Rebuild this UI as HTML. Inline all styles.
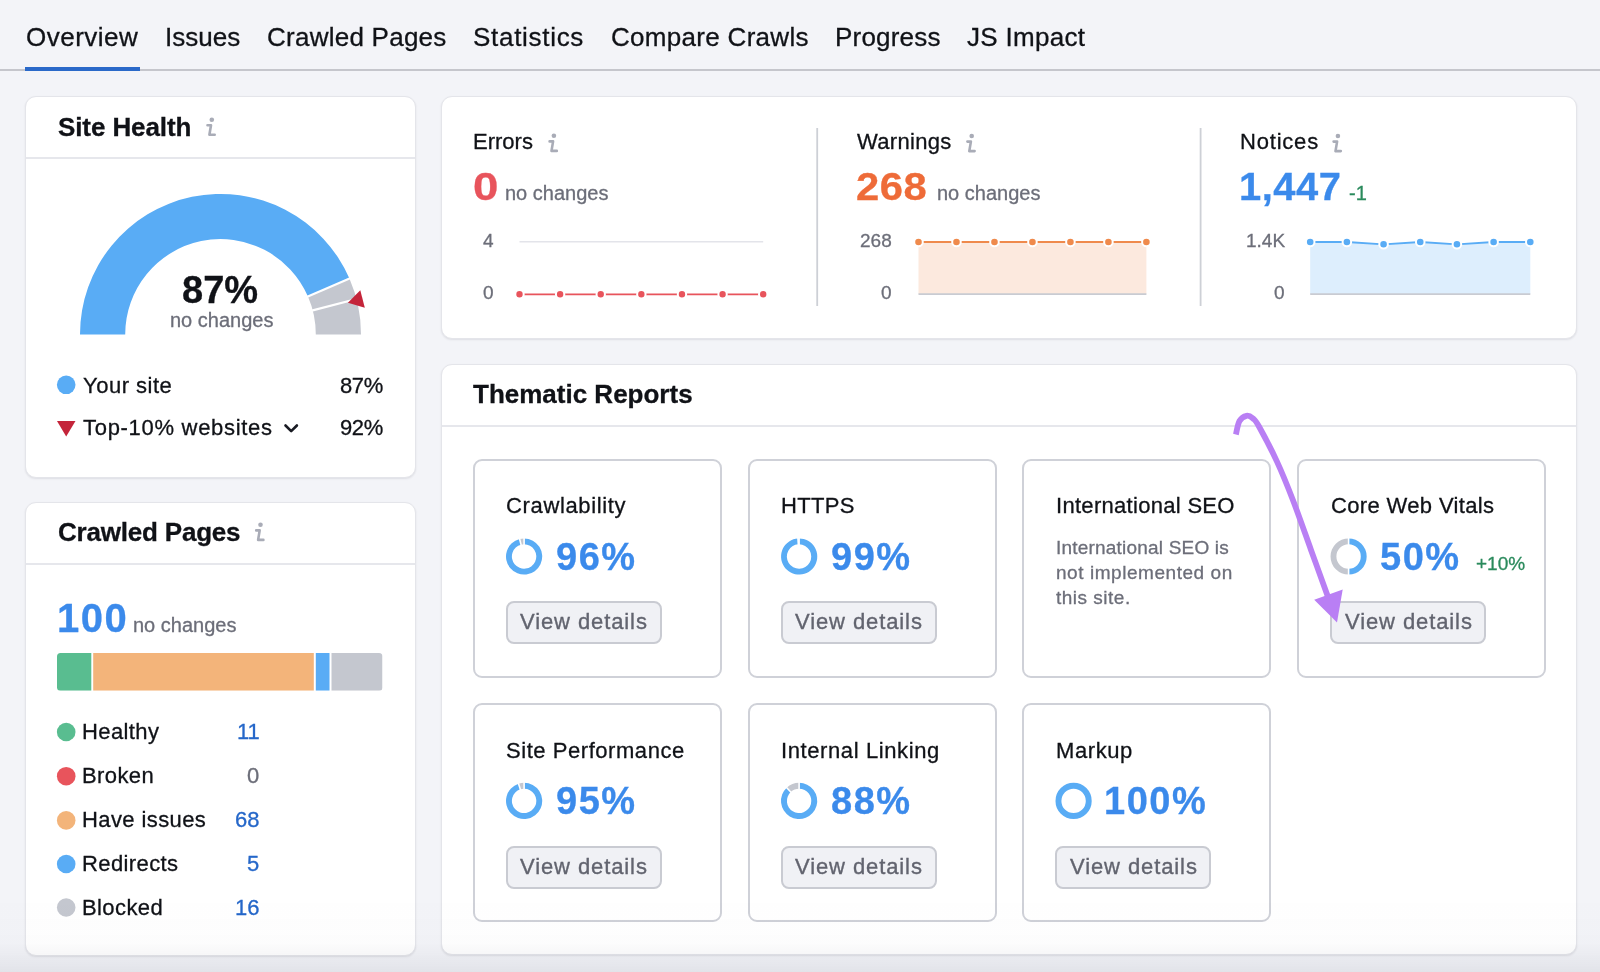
<!DOCTYPE html>
<html><head><meta charset="utf-8">
<style>
html,body{margin:0;padding:0}
body{width:1600px;height:972px;overflow:hidden;position:relative;background:#f3f4f8;font-family:"Liberation Sans",sans-serif;color:#101217}
.t{position:absolute;line-height:1.117;white-space:nowrap;margin:0;will-change:transform;-webkit-text-stroke:0.3px currentColor}
.card{position:absolute;background:#fff;border:1px solid #e4e5ea;border-radius:11px;box-shadow:0 1px 2px rgba(40,44,60,0.10);box-sizing:border-box}
.hr{position:absolute;height:2px;background:#e6e7ec}
.tc{position:absolute;border:2px solid #cfd1d8;border-radius:9px;box-sizing:border-box;background:#fff}
.btn{position:absolute;background:#f0f1f5;border:2px solid #c9cbd2;border-radius:8px;box-sizing:border-box}
svg{position:absolute;overflow:visible}
</style></head><body>
<div style="position:absolute;left:0;top:69px;width:1600px;height:2px;background:#c5c6cc"></div>
<div style="position:absolute;left:25px;top:66.5px;width:115px;height:4.5px;background:#2a69c9"></div>
<div class="card" style="left:25px;top:96px;width:391px;height:382px"></div>
<div class="hr" style="left:26px;top:157px;width:389px"></div>
<div class="card" style="left:25px;top:502px;width:391px;height:454px"></div>
<div class="hr" style="left:26px;top:563px;width:389px"></div>
<div class="card" style="left:441px;top:96px;width:1136px;height:243px"></div>
<div class="card" style="left:441px;top:364px;width:1136px;height:591px"></div>
<div class="hr" style="left:442px;top:425px;width:1134px"></div>
<div class="t" style="left:26px;top:23.47px;font-size:26px;letter-spacing:0.5px">Overview</div>
<div class="t" style="left:165px;top:23.47px;font-size:26px;letter-spacing:0px">Issues</div>
<div class="t" style="left:267px;top:23.47px;font-size:26px;letter-spacing:0.25px">Crawled Pages</div>
<div class="t" style="left:473px;top:23.47px;font-size:26px;letter-spacing:0.7px">Statistics</div>
<div class="t" style="left:611px;top:23.47px;font-size:26px;letter-spacing:0.3px">Compare Crawls</div>
<div class="t" style="left:835px;top:23.47px;font-size:26px;letter-spacing:0.2px">Progress</div>
<div class="t" style="left:967px;top:23.47px;font-size:26px;letter-spacing:0.3px">JS Impact</div>
<div class="t" style="left:57.5px;top:112.97px;font-size:26px;font-weight:bold;letter-spacing:-0.1px">Site Health</div>
<div class="t" style="left:182px;top:269.21px;font-size:38px;font-weight:bold">87%</div>
<div class="t" style="left:169.6px;top:308.9px;font-size:20px;color:#6c6e79">no changes</div>
<div class="t" style="left:83.2px;top:374.39px;font-size:22px;letter-spacing:0.5px">Your site</div>
<div class="t" style="right:1217.5px;top:374.39px;font-size:22px;letter-spacing:-0.4px">87%</div>
<div class="t" style="left:83px;top:416.49px;font-size:22px;letter-spacing:0.7px">Top-10% websites</div>
<div class="t" style="right:1217.5px;top:416.49px;font-size:22px;letter-spacing:-0.4px">92%</div>
<div class="t" style="left:57.5px;top:518.47px;font-size:26px;font-weight:bold;letter-spacing:-0.2px">Crawled Pages</div>
<div class="t" style="left:56.5px;top:596.3px;font-size:40px;color:#3b8aeb;font-weight:bold;letter-spacing:1.5px">100</div>
<div class="t" style="left:132.8px;top:614.4px;font-size:20px;color:#6c6e79">no changes</div>
<div class="t" style="left:81.8px;top:720.09px;font-size:22px;letter-spacing:0.4px">Healthy</div>
<div class="t" style="right:1340.6px;top:720.09px;font-size:22px;color:#2567c9">11</div>
<div class="t" style="left:81.8px;top:764.29px;font-size:22px;letter-spacing:0.4px">Broken</div>
<div class="t" style="right:1340.6px;top:764.29px;font-size:22px;color:#6c6e79">0</div>
<div class="t" style="left:81.8px;top:808.49px;font-size:22px;letter-spacing:0.4px">Have issues</div>
<div class="t" style="right:1340.6px;top:808.49px;font-size:22px;color:#2567c9">68</div>
<div class="t" style="left:81.8px;top:852.09px;font-size:22px;letter-spacing:0.4px">Redirects</div>
<div class="t" style="right:1340.6px;top:852.09px;font-size:22px;color:#2567c9">5</div>
<div class="t" style="left:81.8px;top:895.59px;font-size:22px;letter-spacing:0.4px">Blocked</div>
<div class="t" style="right:1340.6px;top:895.59px;font-size:22px;color:#2567c9">16</div>
<div class="t" style="left:473.3px;top:130.39px;font-size:22px">Errors</div>
<div class="t" style="left:472.5px;top:165.91px;font-size:38px;color:#e8545c;font-weight:bold;transform:scaleX(1.2);transform-origin:0 0">0</div>
<div class="t" style="left:505.3px;top:182.2px;font-size:20px;color:#6c6e79">no changes</div>
<div class="t" style="right:1106.8px;top:229.81px;font-size:19px;color:#6c6e79">4</div>
<div class="t" style="right:1106.8px;top:282px;font-size:19px;color:#6c6e79">0</div>
<div class="t" style="left:856.6px;top:130.49px;font-size:22px;letter-spacing:0.3px">Warnings</div>
<div class="t" style="left:855.6px;top:165.61px;font-size:38px;color:#ee6b38;font-weight:bold;letter-spacing:0.5px;transform:scaleX(1.1);transform-origin:0 0">268</div>
<div class="t" style="left:936.5px;top:181.9px;font-size:20px;color:#6c6e79">no changes</div>
<div class="t" style="right:708px;top:229.81px;font-size:19px;color:#6c6e79">268</div>
<div class="t" style="right:708px;top:282px;font-size:19px;color:#6c6e79">0</div>
<div class="t" style="left:1239.5px;top:130.49px;font-size:22px;letter-spacing:0.8px">Notices</div>
<div class="t" style="left:1238.5px;top:165.61px;font-size:38px;color:#3b8aeb;font-weight:bold;letter-spacing:0.5px;transform:scaleX(1.05);transform-origin:0 0">1,447</div>
<div class="t" style="left:1348.7px;top:181.9px;font-size:20px;color:#2a8a5c">-1</div>
<div class="t" style="right:315.4px;top:229.81px;font-size:19px;color:#6c6e79">1.4K</div>
<div class="t" style="right:315.4px;top:282px;font-size:19px;color:#6c6e79">0</div>
<div class="t" style="left:473.2px;top:380.37px;font-size:26px;font-weight:bold">Thematic Reports</div>
<div class="tc" style="left:472.5px;top:459px;width:249px;height:218.5px"></div>
<div class="tc" style="left:747.5px;top:459px;width:249px;height:218.5px"></div>
<div class="tc" style="left:1022px;top:459px;width:249px;height:218.5px"></div>
<div class="tc" style="left:1297px;top:459px;width:249px;height:218.5px"></div>
<div class="tc" style="left:472.5px;top:703.4px;width:249px;height:218.5px"></div>
<div class="tc" style="left:747.5px;top:703.4px;width:249px;height:218.5px"></div>
<div class="tc" style="left:1022px;top:703.4px;width:249px;height:218.5px"></div>
<div class="t" style="left:506px;top:494.39px;font-size:22px;letter-spacing:0.65px">Crawlability</div>
<div class="t" style="left:555.8px;top:535.91px;font-size:38px;color:#3b8aeb;font-weight:bold;letter-spacing:1.5px">96%</div>
<div class="btn" style="left:505.5px;top:601.2px;width:156px;height:43px"></div>
<div class="t" style="left:520px;top:610.29px;font-size:22px;color:#62646f;letter-spacing:0.9px;-webkit-text-stroke:0.35px #62646f">View details</div>
<div class="t" style="left:781px;top:494.39px;font-size:22px;letter-spacing:0.3px">HTTPS</div>
<div class="t" style="left:830.8px;top:535.91px;font-size:38px;color:#3b8aeb;font-weight:bold;letter-spacing:1.5px">99%</div>
<div class="btn" style="left:780.5px;top:601.2px;width:156px;height:43px"></div>
<div class="t" style="left:795px;top:610.29px;font-size:22px;color:#62646f;letter-spacing:0.9px;-webkit-text-stroke:0.35px #62646f">View details</div>
<div class="t" style="left:1055.5px;top:494.39px;font-size:22px;letter-spacing:0.3px">International SEO</div>
<div class="t" style="left:1055.5px;top:536.8px;font-size:19px;color:#6c6e79;letter-spacing:0.2px">International SEO is</div>
<div class="t" style="left:1055.5px;top:561.8px;font-size:19px;color:#6c6e79;letter-spacing:0.55px">not implemented on</div>
<div class="t" style="left:1055.5px;top:586.8px;font-size:19px;color:#6c6e79;letter-spacing:0.5px">this site.</div>
<div class="t" style="left:1330.5px;top:494.39px;font-size:22px;letter-spacing:0.35px">Core Web Vitals</div>
<div class="t" style="left:1380.3px;top:535.91px;font-size:38px;color:#3b8aeb;font-weight:bold;letter-spacing:1.5px">50%</div>
<div class="btn" style="left:1330px;top:601.2px;width:156px;height:43px"></div>
<div class="t" style="left:1344.5px;top:610.29px;font-size:22px;color:#62646f;letter-spacing:0.9px;-webkit-text-stroke:0.35px #62646f">View details</div>
<div class="t" style="left:506px;top:738.79px;font-size:22px;letter-spacing:0.55px">Site Performance</div>
<div class="t" style="left:555.8px;top:780.31px;font-size:38px;color:#3b8aeb;font-weight:bold;letter-spacing:1.5px">95%</div>
<div class="btn" style="left:505.5px;top:845.6px;width:156px;height:43px"></div>
<div class="t" style="left:520px;top:854.69px;font-size:22px;color:#62646f;letter-spacing:0.9px;-webkit-text-stroke:0.35px #62646f">View details</div>
<div class="t" style="left:781px;top:738.79px;font-size:22px;letter-spacing:0.6px">Internal Linking</div>
<div class="t" style="left:830.8px;top:780.31px;font-size:38px;color:#3b8aeb;font-weight:bold;letter-spacing:1.5px">88%</div>
<div class="btn" style="left:780.5px;top:845.6px;width:156px;height:43px"></div>
<div class="t" style="left:795px;top:854.69px;font-size:22px;color:#62646f;letter-spacing:0.9px;-webkit-text-stroke:0.35px #62646f">View details</div>
<div class="t" style="left:1055.5px;top:738.79px;font-size:22px;letter-spacing:0.6px">Markup</div>
<div class="t" style="left:1103.8px;top:780.31px;font-size:38px;color:#3b8aeb;font-weight:bold;letter-spacing:1.5px">100%</div>
<div class="btn" style="left:1055px;top:845.6px;width:156px;height:43px"></div>
<div class="t" style="left:1069.5px;top:854.69px;font-size:22px;color:#62646f;letter-spacing:0.9px;-webkit-text-stroke:0.35px #62646f">View details</div>
<div class="t" style="left:1476px;top:552.8px;font-size:19px;color:#2a8a5c">+10%</div>
<svg width="1600" height="972" style="left:0;top:0">
<path fill="#59acf5" d="M80 334.4A140.5 140.5 0 0 1 349.44 278.6L307.96 296.55A95.3 95.3 0 0 0 125.2 334.4Z"/>
<path fill="#c4c7cf" d="M349.44 278.6A140.5 140.5 0 0 1 361 334.4L315.8 334.4A95.3 95.3 0 0 0 307.96 296.55Z"/>
<line x1="306.13" y1="297.35" x2="351.28" y2="277.81" stroke="#fff" stroke-width="2.2"/>
<line x1="310.79" y1="310.88" x2="358.4" y2="298.48" stroke="#fff" stroke-width="2.2"/>
<polygon fill="#c4243a" points="347.9,302.8 360.3,290.3 364.8,307.8"/>
<g transform="translate(211.8 119.7)"><circle cx="0" cy="0" r="2.3" fill="#a9acb7"/><path d="M-4.3 5.6H-0.8L-2.4 15.1H2.9" fill="none" stroke="#a9acb7" stroke-width="2.6" stroke-linecap="round" stroke-linejoin="round"/></g>
<g transform="translate(260.5 524.8)"><circle cx="0" cy="0" r="2.3" fill="#a9acb7"/><path d="M-4.3 5.6H-0.8L-2.4 15.1H2.9" fill="none" stroke="#a9acb7" stroke-width="2.6" stroke-linecap="round" stroke-linejoin="round"/></g>
<g transform="translate(553.9 135.8)"><circle cx="0" cy="0" r="2.3" fill="#a9acb7"/><path d="M-4.3 5.6H-0.8L-2.4 15.1H2.9" fill="none" stroke="#a9acb7" stroke-width="2.6" stroke-linecap="round" stroke-linejoin="round"/></g>
<g transform="translate(971.7 136)"><circle cx="0" cy="0" r="2.3" fill="#a9acb7"/><path d="M-4.3 5.6H-0.8L-2.4 15.1H2.9" fill="none" stroke="#a9acb7" stroke-width="2.6" stroke-linecap="round" stroke-linejoin="round"/></g>
<g transform="translate(1337.9 136)"><circle cx="0" cy="0" r="2.3" fill="#a9acb7"/><path d="M-4.3 5.6H-0.8L-2.4 15.1H2.9" fill="none" stroke="#a9acb7" stroke-width="2.6" stroke-linecap="round" stroke-linejoin="round"/></g>
<circle cx="66.2" cy="384.8" r="9.3" fill="#59acf5"/>
<polygon fill="#c4243a" points="57,421 75.5,421 66.2,436.5"/>
<path d="M285.5 425.5L291.2 431.2L296.9 425.5" fill="none" stroke="#191b23" stroke-width="2.6" stroke-linecap="round" stroke-linejoin="round"/>
<clipPath id="barclip"><rect x="57" y="653" width="325.5" height="37.7" rx="3.5"/></clipPath><g clip-path="url(#barclip)">
<rect x="57" y="653" width="34.3" height="37.7" fill="#59bd90"/>
<rect x="93.2" y="653" width="220.6" height="37.7" fill="#f3b47a"/>
<rect x="315.8" y="653" width="13.7" height="37.7" fill="#59acf5"/>
<rect x="331.5" y="653" width="51" height="37.7" fill="#c4c7cf"/>
</g>
<circle cx="66.2" cy="732" r="9.3" fill="#59bd90"/>
<circle cx="66.2" cy="776.2" r="9.3" fill="#e8545c"/>
<circle cx="66.2" cy="820.4" r="9.3" fill="#f3b47a"/>
<circle cx="66.2" cy="864" r="9.3" fill="#59acf5"/>
<circle cx="66.2" cy="907.5" r="9.3" fill="#c4c7cf"/>
<rect x="816.3" y="128" width="1.8" height="178" fill="#cdd0d6"/>
<rect x="1199.7" y="128" width="1.8" height="178" fill="#cdd0d6"/>
<line x1="519.5" y1="241.8" x2="763.2" y2="241.8" stroke="#e3e4ea" stroke-width="1.6"/>
<line x1="519.5" y1="294.3" x2="763.2" y2="294.3" stroke="#e8545c" stroke-width="1.7"/>
<circle cx="519.5" cy="294.3" r="4.2" fill="#e8545c" stroke="#fff" stroke-width="2"/>
<circle cx="560.12" cy="294.3" r="4.2" fill="#e8545c" stroke="#fff" stroke-width="2"/>
<circle cx="600.73" cy="294.3" r="4.2" fill="#e8545c" stroke="#fff" stroke-width="2"/>
<circle cx="641.35" cy="294.3" r="4.2" fill="#e8545c" stroke="#fff" stroke-width="2"/>
<circle cx="681.97" cy="294.3" r="4.2" fill="#e8545c" stroke="#fff" stroke-width="2"/>
<circle cx="722.58" cy="294.3" r="4.2" fill="#e8545c" stroke="#fff" stroke-width="2"/>
<circle cx="763.2" cy="294.3" r="4.2" fill="#e8545c" stroke="#fff" stroke-width="2"/>
<rect x="918.5" y="242" width="227.9" height="52" fill="#fce9de"/>
<line x1="918.5" y1="294.2" x2="1146.4" y2="294.2" stroke="#c9cbd2" stroke-width="1.8"/>
<line x1="918.5" y1="242" x2="1146.4" y2="242" stroke="#ef8a4c" stroke-width="1.8"/>
<circle cx="918.5" cy="242" r="4.3" fill="#ef8a4c" stroke="#fff" stroke-width="2"/>
<circle cx="956.48" cy="242" r="4.3" fill="#ef8a4c" stroke="#fff" stroke-width="2"/>
<circle cx="994.47" cy="242" r="4.3" fill="#ef8a4c" stroke="#fff" stroke-width="2"/>
<circle cx="1032.45" cy="242" r="4.3" fill="#ef8a4c" stroke="#fff" stroke-width="2"/>
<circle cx="1070.43" cy="242" r="4.3" fill="#ef8a4c" stroke="#fff" stroke-width="2"/>
<circle cx="1108.42" cy="242" r="4.3" fill="#ef8a4c" stroke="#fff" stroke-width="2"/>
<circle cx="1146.4" cy="242" r="4.3" fill="#ef8a4c" stroke="#fff" stroke-width="2"/>
<polygon fill="#ddeefd" points="1310.2,242 1346.88,242 1383.57,244.3 1420.25,242 1456.93,244.3 1493.62,242 1530.3,242 1530.3,294 1310.2,294"/>
<line x1="1310.2" y1="294.2" x2="1530.3" y2="294.2" stroke="#c9cbd2" stroke-width="1.8"/>
<polyline fill="none" stroke="#59acf5" stroke-width="1.8" points="1310.2,242 1346.88,242 1383.57,244.3 1420.25,242 1456.93,244.3 1493.62,242 1530.3,242"/>
<circle cx="1310.2" cy="242" r="4.3" fill="#59acf5" stroke="#fff" stroke-width="2"/>
<circle cx="1346.88" cy="242" r="4.3" fill="#59acf5" stroke="#fff" stroke-width="2"/>
<circle cx="1383.57" cy="244.3" r="4.3" fill="#59acf5" stroke="#fff" stroke-width="2"/>
<circle cx="1420.25" cy="242" r="4.3" fill="#59acf5" stroke="#fff" stroke-width="2"/>
<circle cx="1456.93" cy="244.3" r="4.3" fill="#59acf5" stroke="#fff" stroke-width="2"/>
<circle cx="1493.62" cy="242" r="4.3" fill="#59acf5" stroke="#fff" stroke-width="2"/>
<circle cx="1530.3" cy="242" r="4.3" fill="#59acf5" stroke="#fff" stroke-width="2"/>
<path fill="#59acf5" d="M524.1 538.4A18.1 18.1 0 1 1 519.6 538.97L521.07 544.68A12.2 12.2 0 1 0 524.1 544.3Z"/>
<path fill="#c4c7cf" d="M519.6 538.97A18.1 18.1 0 0 1 524.1 538.4L524.1 544.3A12.2 12.2 0 0 0 521.07 544.68Z"/>
<line x1="524.1" y1="545.3" x2="524.1" y2="537.4" stroke="#fff" stroke-width="1.6"/>
<line x1="521.31" y1="545.65" x2="519.35" y2="538" stroke="#fff" stroke-width="1.6"/>
<path fill="#59acf5" d="M799.1 538.4A18.1 18.1 0 1 1 797.96 538.44L798.33 544.32A12.2 12.2 0 1 0 799.1 544.3Z"/>
<path fill="#c4c7cf" d="M797.96 538.44A18.1 18.1 0 0 1 799.1 538.4L799.1 544.3A12.2 12.2 0 0 0 798.33 544.32Z"/>
<line x1="799.1" y1="545.3" x2="799.1" y2="537.4" stroke="#fff" stroke-width="1.6"/>
<line x1="798.4" y1="545.32" x2="797.9" y2="537.44" stroke="#fff" stroke-width="1.6"/>
<path fill="#59acf5" d="M1348.6 538.4A18.1 18.1 0 0 1 1348.6 574.6L1348.6 568.7A12.2 12.2 0 0 0 1348.6 544.3Z"/>
<path fill="#c4c7cf" d="M1348.6 574.6A18.1 18.1 0 0 1 1348.6 538.4L1348.6 544.3A12.2 12.2 0 0 0 1348.6 568.7Z"/>
<line x1="1348.6" y1="545.3" x2="1348.6" y2="537.4" stroke="#fff" stroke-width="1.6"/>
<line x1="1348.6" y1="567.7" x2="1348.6" y2="575.6" stroke="#fff" stroke-width="1.6"/>
<path fill="#59acf5" d="M524.1 782.8A18.1 18.1 0 1 1 518.51 783.69L520.33 789.3A12.2 12.2 0 1 0 524.1 788.7Z"/>
<path fill="#c4c7cf" d="M518.51 783.69A18.1 18.1 0 0 1 524.1 782.8L524.1 788.7A12.2 12.2 0 0 0 520.33 789.3Z"/>
<line x1="524.1" y1="789.7" x2="524.1" y2="781.8" stroke="#fff" stroke-width="1.6"/>
<line x1="520.64" y1="790.25" x2="518.2" y2="782.73" stroke="#fff" stroke-width="1.6"/>
<path fill="#59acf5" d="M799.1 782.8A18.1 18.1 0 1 1 786.71 787.71L790.75 792.01A12.2 12.2 0 1 0 799.1 788.7Z"/>
<path fill="#c4c7cf" d="M786.71 787.71A18.1 18.1 0 0 1 799.1 782.8L799.1 788.7A12.2 12.2 0 0 0 790.75 792.01Z"/>
<line x1="799.1" y1="789.7" x2="799.1" y2="781.8" stroke="#fff" stroke-width="1.6"/>
<line x1="791.43" y1="792.74" x2="786.03" y2="786.98" stroke="#fff" stroke-width="1.6"/>
<circle cx="1073.6" cy="800.9" r="15.15" fill="none" stroke="#59acf5" stroke-width="5.9"/>
<path d="M1235.9 434.4C1236.5 432.17 1237.73 424.1 1239.5 421C1241.27 417.9 1244.25 416.22 1246.5 415.8C1248.75 415.38 1250.92 416.72 1253 418.5C1255.08 420.28 1255 419.32 1259 426.5C1263 433.68 1271.35 449.35 1277 461.6C1282.65 473.85 1287.23 485.28 1292.9 500C1298.57 514.72 1305.15 533.73 1311 549.9C1316.85 566.07 1325.17 589.15 1328 597" fill="none" stroke="#b97ff4" stroke-width="5.8" stroke-linecap="butt"/>
<polygon fill="#b97ff4" points="1337,622.5 1314.2,599.7 1342.7,589.5"/>
</svg>
<div style="position:absolute;left:0;top:895px;width:1600px;height:77px;background:linear-gradient(to bottom,rgba(30,35,60,0) 0%,rgba(30,35,60,0.012) 62%,rgba(30,35,60,0.075) 100%);pointer-events:none"></div>
</body></html>
